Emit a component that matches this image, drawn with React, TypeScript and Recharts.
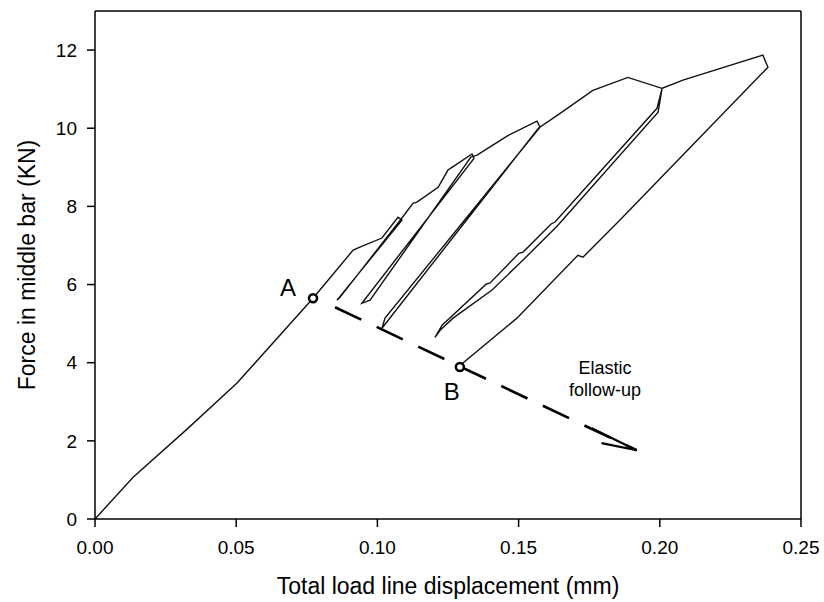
import { LineChart, Line, XAxis, YAxis, ReferenceLine, ReferenceDot, Label } from 'recharts';

type Pt = [number, number];

// force–displacement path
const loading: Pt[] = [
  [0, 0], [0.0135, 1.07], [0.0326, 2.3], [0.0503, 3.48], [0.0772, 5.65],
  [0.0914, 6.88], [0.0938, 6.96], [0.1016, 7.19], [0.1073, 7.72], [0.1087, 7.65],
];
const cycle1: Pt[] = [[0.0857, 5.6], [0.0866, 5.66], [0.1078, 7.62]];
const envelope1: Pt[] = [
  [0.1126, 8.08], [0.114, 8.11], [0.1215, 8.49], [0.125, 8.93], [0.1264, 9.0],
  [0.1335, 9.34], [0.1342, 9.23],
];
const cycle2: Pt[] = [[0.0945, 5.52], [0.0974, 5.6], [0.1331, 9.26]];
const envelope2: Pt[] = [
  [0.1353, 9.31], [0.1424, 9.64], [0.1459, 9.8], [0.1565, 10.18], [0.1576, 10.03],
];
const cycle3: Pt[] = [[0.1027, 5.14], [0.1016, 4.88], [0.157, 10.0]];
const envelope3: Pt[] = [
  [0.1647, 10.38], [0.1763, 10.97], [0.1887, 11.3], [0.2008, 11.02],
];
const cycle4: Pt[] = [
  [0.199, 10.51], [0.1629, 7.6], [0.1615, 7.55], [0.1516, 6.83], [0.1501, 6.8],
  [0.1399, 6.04], [0.1385, 6.01], [0.1229, 4.96], [0.1204, 4.65],
  [0.1222, 4.83], [0.1268, 5.14], [0.1406, 5.86], [0.1523, 6.68], [0.1636, 7.49],
  [0.1994, 10.41], [0.2008, 11.02],
];
const envelope4: Pt[] = [[0.2082, 11.23], [0.2365, 11.87], [0.2383, 11.56]];
const unload5: Pt[] = [
  [0.1859, 7.65], [0.1728, 6.7], [0.171, 6.75], [0.1494, 5.14], [0.1303, 3.99], [0.1296, 3.93],
];

const followUp: Pt[] = [[0.085, 5.42], [0.1918, 1.76]];
const arrowUpper: Pt[] = [[0.1759, 2.32], [0.1918, 1.76]];
const arrowLower: Pt[] = [[0.1794, 1.94], [0.1918, 1.76]];

const pointA: Pt = [0.0772, 5.65];
const pointB: Pt = [0.1292, 3.89];
const noteAt: Pt = [0.1806, 3.62];

const xTicks = [0, 0.05, 0.1, 0.15, 0.2, 0.25];
const yTicks = [0, 2, 4, 6, 8, 10, 12];

const toRows = (pts: Pt[]) => pts.map(([x, y]) => ({ x, y }));

const curve = toRows([
  ...loading, ...cycle1, ...envelope1, ...cycle2, ...envelope2,
  ...cycle3, ...envelope3, ...cycle4, ...envelope4, ...unload5,
]);

const FONT = '"Liberation Sans", Arial, sans-serif';

const xTitle = ({ viewBox }: any) => (
  <text x={viewBox.x + viewBox.width / 2} y={594} textAnchor="middle" fontSize={23} fill="#000" fontFamily={FONT}>
    Total load line displacement (mm)
  </text>
);

const yTitle = ({ viewBox }: any) => {
  const cy = viewBox.y + viewBox.height / 2;
  return (
    <text x={27} y={cy} transform={`rotate(-90, 27, ${cy})`} textAnchor="middle" dominantBaseline="central" fontSize={23} fill="#000" fontFamily={FONT}>
      Force in middle bar (KN)
    </text>
  );
};

const letter = (txt: string, dx: number, dy: number) => ({ viewBox }: any) => (
  <text x={viewBox.x + viewBox.width / 2 + dx} y={viewBox.y + viewBox.height / 2 + dy} textAnchor="middle" dominantBaseline="central" fontSize={24} fill="#000" fontFamily={FONT}>
    {txt}
  </text>
);

const note = ({ viewBox }: any) => {
  const cx = viewBox.x + viewBox.width / 2;
  const cy = viewBox.y + viewBox.height / 2;
  return (
    <text textAnchor="middle" fontSize={18} fill="#000" fontFamily={FONT}>
      <tspan x={cx} y={cy - 4}>Elastic</tspan>
      <tspan x={cx} y={cy + 18}>follow-up</tspan>
    </text>
  );
};

export default function App() {
  return (
    <div style={{ position: 'absolute', left: 0, top: 0, background: '#fff' }}>
      <LineChart width={824} height={602} margin={{ top: 11, right: 23, bottom: 0, left: 0 }} style={{ fontFamily: FONT }}>
        <XAxis
          type="number"
          dataKey="x"
          domain={[0, 0.25]}
          ticks={xTicks}
          allowDataOverflow
          tickFormatter={(v: number) => v.toFixed(2)}
          height={83}
          tickSize={8}
          tickMargin={14}
          axisLine={{ stroke: '#000', strokeWidth: 1.5 }}
          tickLine={{ stroke: '#000', strokeWidth: 1.5 }}
          tick={{ fill: '#000', fontSize: 19 }}
          label={<Label content={xTitle} />}
        />
        <YAxis
          type="number"
          domain={[0, 13]}
          ticks={yTicks}
          allowDataOverflow
          width={95}
          tickSize={8}
          tickMargin={10}
          axisLine={{ stroke: '#000', strokeWidth: 1.5 }}
          tickLine={{ stroke: '#000', strokeWidth: 1.5 }}
          tick={{ fill: '#000', fontSize: 19 }}
          label={<Label content={yTitle} />}
        />
        <ReferenceLine y={13} stroke="#000" strokeWidth={1.5} />
        <ReferenceLine x={0.25} stroke="#000" strokeWidth={1.5} />

        <Line data={curve} dataKey="y" type="linear" stroke="#111" strokeWidth={1.4} dot={false} isAnimationActive={false} />
        <Line data={toRows(followUp)} dataKey="y" type="linear" stroke="#000" strokeWidth={2.6} strokeDasharray="29 17" dot={false} isAnimationActive={false} />
        <Line data={toRows(arrowUpper)} dataKey="y" type="linear" stroke="#000" strokeWidth={2.2} dot={false} isAnimationActive={false} />
        <Line data={toRows(arrowLower)} dataKey="y" type="linear" stroke="#000" strokeWidth={2.2} dot={false} isAnimationActive={false} />

        <ReferenceDot x={pointA[0]} y={pointA[1]} r={4} fill="#fff" stroke="#000" strokeWidth={2.5} label={<Label content={letter('A', -25, -11)} />} />
        <ReferenceDot x={pointB[0]} y={pointB[1]} r={4} fill="#fff" stroke="#000" strokeWidth={2.5} label={<Label content={letter('B', -8, 25)} />} />
        <ReferenceDot x={noteAt[0]} y={noteAt[1]} r={0} fill="none" stroke="none" label={<Label content={note} />} />
      </LineChart>
    </div>
  );
}
